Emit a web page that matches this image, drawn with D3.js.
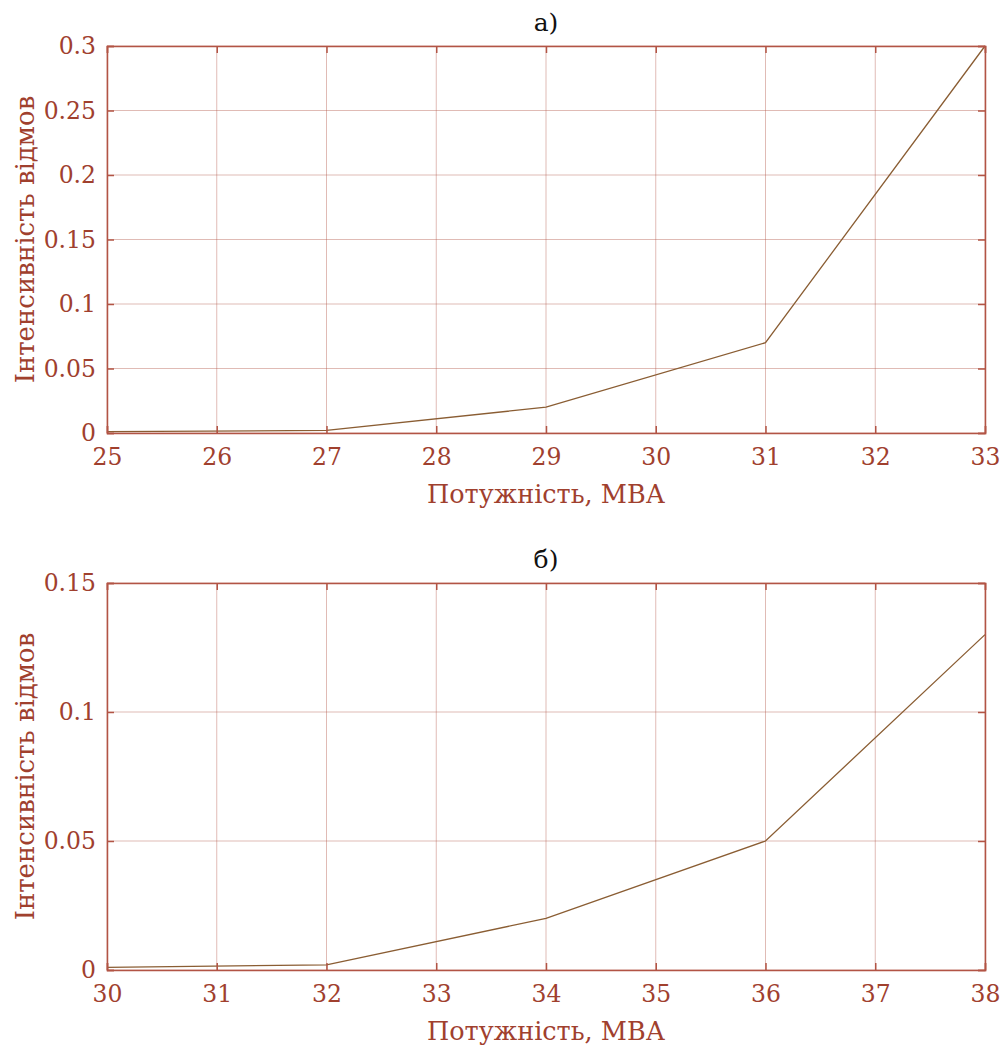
<!DOCTYPE html>
<html>
<head>
<meta charset="utf-8">
<script src="https://cdn.jsdelivr.net/npm/d3@7"></script>
<style>
  body { margin: 0; background: #fff; }
  svg text { font-family: "DejaVu Serif", serif; }
</style>
</head>
<body>
<svg id="chart" width="1003" height="1048"></svg>
<script>
// panel a)
const powerA = [25, 27, 29, 31, 33];
const rateA = [0.001, 0.002, 0.02, 0.07, 0.3];
const xTicksA = [25, 26, 27, 28, 29, 30, 31, 32, 33];
const yTicksA = [0, 0.05, 0.1, 0.15, 0.2, 0.25, 0.3];

// panel b)
const powerB = [30, 32, 34, 36, 38];
const rateB = [0.001, 0.002, 0.02, 0.05, 0.13];
const xTicksB = [30, 31, 32, 33, 34, 35, 36, 37, 38];
const yTicksB = [0, 0.05, 0.1, 0.15];

const titles = ["а)", "б)"];
const xLabel = "Потужність, МВА";
const yLabel = "Інтенсивність відмов";

const textColor = "#a0402e";
const axisColor = "#b25445";
const lineColor = "#8a5d33";

const svg = d3.select("#chart");

function drawPanel(top, xs, ys, xTicks, yTicks, title) {
  const left = 107, right = 985, height = 387;
  const bottom = top + height;

  const x = d3.scaleLinear()
      .domain(d3.extent(xTicks))
      .range([left, right]);
  const y = d3.scaleLinear()
      .domain(d3.extent(yTicks))
      .range([bottom, top]);

  const g = svg.append("g");

  // grid
  g.append("g").selectAll("line")
      .data(xTicks)
      .enter()
      .append("line")
      .attr("x1", d => x(d)).attr("x2", d => x(d))
      .attr("y1", top).attr("y2", bottom)
      .attr("stroke", axisColor)
      .attr("stroke-opacity", 0.4)
      .attr("stroke-width", 1);

  g.append("g").selectAll("line")
      .data(yTicks)
      .enter()
      .append("line")
      .attr("x1", left).attr("x2", right)
      .attr("y1", d => y(d)).attr("y2", d => y(d))
      .attr("stroke", axisColor)
      .attr("stroke-opacity", 0.4)
      .attr("stroke-width", 1);

  // data line
  const line = d3.line()
      .x((d, i) => x(xs[i]))
      .y(d => y(d));

  g.append("path")
      .datum(ys)
      .attr("d", line)
      .attr("fill", "none")
      .attr("stroke", lineColor)
      .attr("stroke-width", 1.3);

  // axes
  const fmt = d3.format("~g");

  const xAxis = g.append("g")
      .attr("transform", `translate(0,${bottom})`)
      .call(d3.axisBottom(x).tickValues(xTicks).tickSize(-7).tickPadding(15).tickFormat(d3.format("d")));
  const xTop = g.append("g")
      .attr("transform", `translate(0,${top})`)
      .call(d3.axisTop(x).tickValues(xTicks).tickSize(-7).tickFormat(""));
  const yAxis = g.append("g")
      .attr("transform", `translate(${left},0)`)
      .call(d3.axisLeft(y).tickValues(yTicks).tickSize(-7).tickPadding(11).tickFormat(fmt));
  const yRight = g.append("g")
      .attr("transform", `translate(${right},0)`)
      .call(d3.axisRight(y).tickValues(yTicks).tickSize(-7).tickFormat(""));

  [xAxis, xTop, yAxis, yRight].forEach(a => {
    a.select(".domain").attr("stroke", axisColor).attr("stroke-width", 1.5);
    a.selectAll(".tick line").attr("stroke", axisColor).attr("stroke-width", 1.5);
    a.selectAll(".tick text")
        .attr("fill", textColor)
        .style("font-family", "'DejaVu Serif', serif")
        .style("font-size", "23.5px");
  });
  xAxis.selectAll(".tick text").attr("dy", "0.71em");

  g.append("text")
      .attr("x", (left + right) / 2)
      .attr("y", bottom + 70)
      .attr("text-anchor", "middle")
      .attr("fill", textColor)
      .style("font-size", "25.5px")
      .text(xLabel);

  g.append("text")
      .attr("transform", "rotate(-90)")
      .attr("x", -(top + bottom) / 2)
      .attr("y", 34)
      .attr("text-anchor", "middle")
      .attr("fill", textColor)
      .style("font-size", "26px")
      .text(yLabel);

  g.append("text")
      .attr("x", (left + right) / 2)
      .attr("y", top - 15)
      .attr("text-anchor", "middle")
      .attr("fill", "#111")
      .style("font-size", "25px")
      .text(title);
}

drawPanel(46, powerA, rateA, xTicksA, yTicksA, titles[0]);
drawPanel(583, powerB, rateB, xTicksB, yTicksB, titles[1]);
</script>
</body>
</html>
